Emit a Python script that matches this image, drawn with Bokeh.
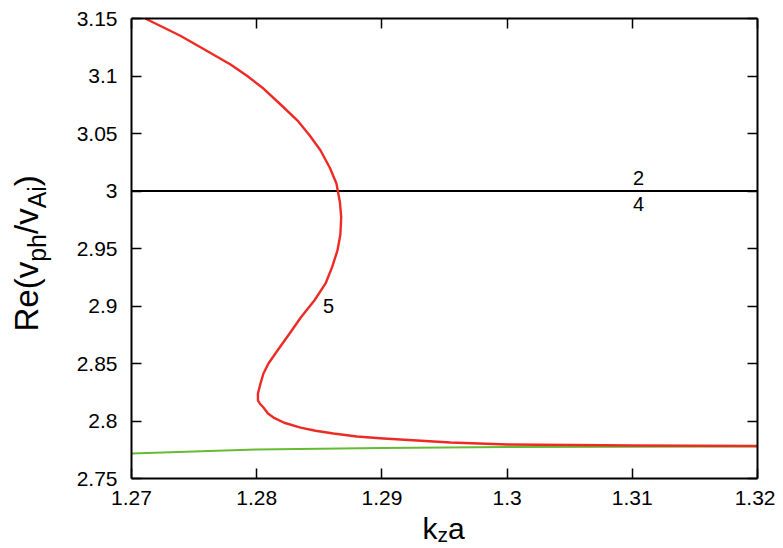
from bokeh.plotting import figure
from bokeh.models import Range1d, Label, LinearAxis, FixedTicker
from bokeh.embed import file_html
from bokeh.resources import INLINE
import math

# ---- data ----
red_x = [1.2711, 1.27256, 1.2739, 1.27527, 1.27791, 1.27925, 1.28054, 1.28193, 1.28326,
         1.28425, 1.28510, 1.28585, 1.28637, 1.28665, 1.28675, 1.28668, 1.28645, 1.28603,
         1.28550, 1.28462, 1.28352, 1.28280, 1.28166, 1.28094, 1.28054, 1.28030, 1.28010,
         1.28010, 1.28026, 1.28054, 1.2809, 1.28134, 1.2822, 1.28350, 1.2847, 1.28613,
         1.2880, 1.29013, 1.29548, 1.30003, 1.31002, 1.32]
red_y = [3.1500, 3.1422, 3.1350, 3.1265, 3.1100, 3.1000, 3.0891, 3.0750, 3.0613,
         3.0480, 3.0352, 3.0200, 3.0065, 2.9900, 2.9770, 2.9620, 2.9483, 2.9340,
         2.9196, 2.9050, 2.8900, 2.8787, 2.8613, 2.8500, 2.8413, 2.8325, 2.8239,
         2.8180, 2.8150, 2.8117, 2.8065, 2.8030, 2.7985, 2.7943, 2.7915, 2.7891,
         2.7865, 2.7848, 2.7813, 2.7796, 2.7787, 2.7783]
green_x = [1.27, 1.28, 1.29, 1.30, 1.31, 1.32]
green_y = [2.7717, 2.7752, 2.7765, 2.7773, 2.7777, 2.7779]
black_x = [1.27, 1.32]
black_y = [3.0, 3.0]
x_ticks = [1.27, 1.28, 1.29, 1.30, 1.31, 1.32]
x_tick_labels = ["1.27", "1.28", "1.29", "1.3", "1.31", "1.32"]
y_ticks = [2.75, 2.8, 2.85, 2.9, 2.95, 3.0, 3.05, 3.1, 3.15]
y_tick_labels = ["2.75", "2.8", "2.85", "2.9", "2.95", "3", "3.05", "3.1", "3.15"]
curve_labels = ["2", "4", "5"]
curve_label_x = [1.3105, 1.3105, 1.28573]
curve_label_y = [3.0117, 2.9883, 2.8996]

FONT = "Liberation Sans"
X0, X1, Y0, Y1 = 1.27, 1.32, 2.75, 3.15
W, H = 775, 547
# plot box in canvas pixels
PL, PR, PT, PB = 131, 757, 18, 478
sx_ = (X1 - X0) / (PR - PL)   # data per pixel
sy_ = (Y1 - Y0) / (PB - PT)
XS, XE = X0 - PL * sx_, X0 + (W - PL) * sx_
YE, YS = Y1 + PT * sy_, Y1 - (H - PT) * sy_

def dx(px):
    return XS + px * sx_

def dy(py):
    return YE - py * sy_

p = figure(width=W, height=H, output_backend="svg", toolbar_location=None,
           x_range=Range1d(XS, XE), y_range=Range1d(YS, YE),
           min_border_left=0, min_border_right=0, min_border_top=0, min_border_bottom=0,
           background_fill_color="white", border_fill_color="white")
p.grid.visible = False
p.outline_line_color = None
p.xaxis.visible = False
p.yaxis.visible = False

def make_axis(side, ticks, labels, fixed, bounds):
    ax = LinearAxis(ticker=FixedTicker(ticks=ticks), fixed_location=fixed, bounds=bounds)
    ax.axis_line_color = "black"
    ax.axis_line_width = 2
    ax.major_tick_line_color = "black"
    ax.major_tick_line_width = 1.5
    ax.major_tick_in = 10
    ax.major_tick_out = 0
    ax.minor_tick_line_color = None
    ax.major_label_text_font = FONT
    ax.major_label_text_font_size = "21px"
    if labels is not None:
        ax.major_label_overrides = {t: s for t, s in zip(ticks, labels)}
        ax.major_label_text_color = "black"
    else:
        ax.major_label_text_color = None
    p.add_layout(ax, side)
    return ax

bx = make_axis("below", x_ticks, x_tick_labels, Y0, (X0, X1))
bx.major_label_standoff = 12
ly = make_axis("left", y_ticks, y_tick_labels, X0, (Y0, Y1))
ly.major_label_standoff = 14
make_axis("above", x_ticks, None, Y1, (X0, X1))
make_axis("right", y_ticks, None, X1, (Y0, Y1))

p.line(green_x, green_y, line_color="#66bb33", line_width=2)
p.line(black_x, black_y, line_color="black", line_width=2)
p.line(red_x, red_y, line_color="#ee2a24", line_width=2.4, line_join="round")

for t, x, y in zip(curve_labels, curve_label_x, curve_label_y):
    p.add_layout(Label(x=x, y=y, text=t, text_font=FONT, text_font_size="20px",
                       text_align="center", text_baseline="middle", text_color="black"))

# ---- axis titles composed with subscripts ----
WID = {"R": 722, "e": 556, "(": 333, "v": 500, "p": 556, "h": 556, "/": 278,
       "A": 667, "i": 222, ")": 333, "k": 500, "z": 500, "a": 556}
MID = 0.3465  # middle of text box above the baseline, in em

def adv(s, size):
    return sum(WID[c] for c in s) * size / 1000.0

MAIN_X, SUB_X = 30, 21
cx = 422
for txt, size, base in [("k", MAIN_X, 538), ("z", SUB_X, 541), ("a", MAIN_X, 538)]:
    p.add_layout(Label(x=dx(cx), y=dy(base - MID * size), text=txt,
                       text_font=FONT, text_font_size=f"{size}px",
                       text_align="left", text_baseline="middle", text_color="black"))
    cx += adv(txt, size)

MAIN_Y, SUB_Y = 33, 25
cy = 331
for txt, size, base in [("Re(v", MAIN_Y, 37), ("ph", SUB_Y, 45), ("/v", MAIN_Y, 37),
                        ("Ai", SUB_Y, 45), (")", MAIN_Y, 37)]:
    p.add_layout(Label(x=dx(base - MID * size), y=dy(cy), text=txt,
                       angle=math.pi / 2, text_font=FONT, text_font_size=f"{size}px",
                       text_align="left", text_baseline="middle", text_color="black"))
    cy -= adv(txt, size)

open("out.html", "w").write(file_html(p, INLINE))
